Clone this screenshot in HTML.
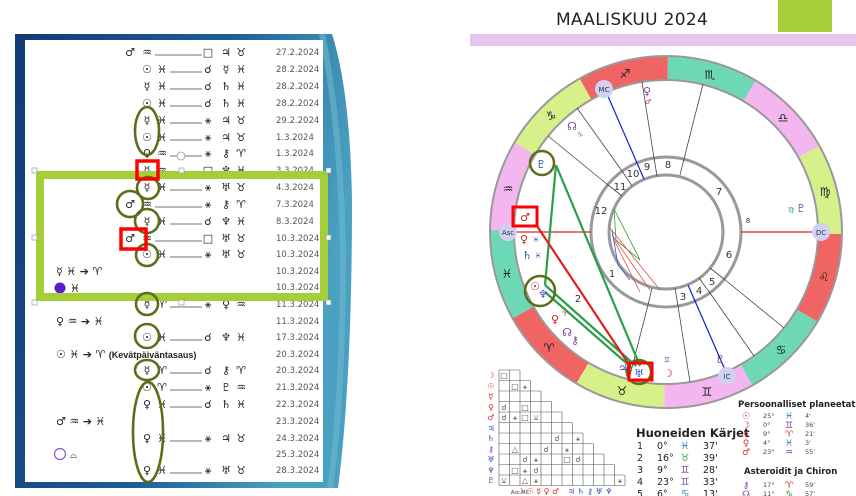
<!DOCTYPE html>
<html><head><meta charset="utf-8"><style>
html,body{margin:0;padding:0;background:#fff;width:856px;height:496px;overflow:hidden;font-family:"Liberation Sans","DejaVu Sans",sans-serif}
svg text{font-family:"DejaVu Sans","Liberation Sans",sans-serif}
</style></head><body>
<svg width="856" height="496" viewBox="0 0 856 496" xmlns="http://www.w3.org/2000/svg">
<defs>
<linearGradient id="bg" x1="0" y1="0" x2="1" y2="0.3">
<stop offset="0" stop-color="#123a78"/><stop offset="0.6" stop-color="#1f5f95"/><stop offset="1" stop-color="#4aa0c0"/></linearGradient>
</defs>
<!-- LEFT PANEL -->
<path d="M15,34 L332,34 Q350,90 352,200 Q352,380 338,488 L15,488 Z" fill="url(#bg)"/>
<path d="M322,34 Q340,120 343,250 Q343,400 330,488" fill="none" stroke="#6fb7cf" stroke-width="6" opacity="0.6"/>
<rect x="25" y="40" width="298" height="442" fill="#fff"/>
<g font-size="11" fill="#222">
<!-- rows with lines -->
<g stroke="#444" stroke-width="0.8">
<line x1="155" y1="55" x2="202" y2="55"/><line x1="170" y1="72" x2="202" y2="72"/><line x1="170" y1="89" x2="202" y2="89"/><line x1="170" y1="106" x2="202" y2="106"/><line x1="170" y1="123" x2="202" y2="123"/><line x1="170" y1="140" x2="202" y2="140"/><line x1="170" y1="156" x2="202" y2="156"/><line x1="170" y1="173" x2="202" y2="173"/><line x1="170" y1="190" x2="202" y2="190"/><line x1="155" y1="207" x2="202" y2="207"/><line x1="170" y1="224" x2="202" y2="224"/><line x1="155" y1="241" x2="202" y2="241"/><line x1="170" y1="257" x2="202" y2="257"/><line x1="170" y1="307" x2="202" y2="307"/><line x1="170" y1="340" x2="202" y2="340"/><line x1="170" y1="373" x2="202" y2="373"/><line x1="170" y1="390" x2="202" y2="390"/><line x1="170" y1="407" x2="202" y2="407"/><line x1="170" y1="441" x2="202" y2="441"/><line x1="170" y1="473" x2="202" y2="473"/>
</g>
<g text-anchor="middle">
<text x="130" y="56">♂</text><text x="147" y="56">♒</text><text x="208" y="56">□</text><text x="226" y="56">♃</text><text x="241" y="56">♉</text>
<text x="147" y="73">☉</text><text x="162" y="73">♓</text><text x="208" y="73">☌</text><text x="226" y="73">☿</text><text x="241" y="73">♓</text>
<text x="147" y="90">☿</text><text x="162" y="90">♓</text><text x="208" y="90">☌</text><text x="226" y="90">♄</text><text x="241" y="90">♓</text>
<text x="147" y="107">☉</text><text x="162" y="107">♓</text><text x="208" y="107">☌</text><text x="226" y="107">♄</text><text x="241" y="107">♓</text>
<text x="147" y="124">☿</text><text x="162" y="124">♓</text><text x="208" y="124">⚹</text><text x="226" y="124">♃</text><text x="241" y="124">♉</text>
<text x="147" y="141">☉</text><text x="162" y="141">♓</text><text x="208" y="141">⚹</text><text x="226" y="141">♃</text><text x="241" y="141">♉</text>
<text x="147" y="157">♀</text><text x="162" y="157">♒</text><text x="208" y="157">⚹</text><text x="226" y="157">⚷</text><text x="241" y="157">♈</text>
<text x="147" y="174">☿</text><text x="162" y="174">♒</text><text x="208" y="174">□</text><text x="226" y="174">♆</text><text x="241" y="174">♓</text>
<text x="147" y="191">☿</text><text x="162" y="191">♓</text><text x="208" y="191">⚹</text><text x="226" y="191">♅</text><text x="241" y="191">♉</text>
<text x="130" y="208">♂</text><text x="147" y="208">♒</text><text x="208" y="208">⚹</text><text x="226" y="208">⚷</text><text x="241" y="208">♈</text>
<text x="147" y="225">☿</text><text x="162" y="225">♓</text><text x="208" y="225">☌</text><text x="226" y="225">♆</text><text x="241" y="225">♓</text>
<text x="130" y="242">♂</text><text x="147" y="242">♒</text><text x="208" y="242">□</text><text x="226" y="242">♅</text><text x="241" y="242">♉</text>
<text x="147" y="258">☉</text><text x="162" y="258">♓</text><text x="208" y="258">⚹</text><text x="226" y="258">♅</text><text x="241" y="258">♉</text>
<text x="147" y="308">☿</text><text x="162" y="308">♈</text><text x="208" y="308">⚹</text><text x="226" y="308">♀</text><text x="241" y="308">♒</text>
<text x="147" y="341">☉</text><text x="162" y="341">♓</text><text x="208" y="341">☌</text><text x="226" y="341">♆</text><text x="241" y="341">♓</text>
<text x="147" y="374">☿</text><text x="162" y="374">♈</text><text x="208" y="374">☌</text><text x="226" y="374">⚷</text><text x="241" y="374">♈</text>
<text x="147" y="391">☉</text><text x="162" y="391">♈</text><text x="208" y="391">⚹</text><text x="226" y="391">♇</text><text x="241" y="391">♒</text>
<text x="147" y="408">♀</text><text x="162" y="408">♓</text><text x="208" y="408">☌</text><text x="226" y="408">♄</text><text x="241" y="408">♓</text>
<text x="147" y="442">♀</text><text x="162" y="442">♓</text><text x="208" y="442">⚹</text><text x="226" y="442">♃</text><text x="241" y="442">♉</text>
<text x="147" y="474">♀</text><text x="162" y="474">♓</text><text x="208" y="474">⚹</text><text x="226" y="474">♅</text><text x="241" y="474">♉</text>
</g>
<text x="56" y="275">☿  ♓ ➔ ♈</text>
<circle cx="60" cy="288" r="5.5" fill="#5a1ec8"/><text x="70" y="292">♓</text>
<text x="56" y="325">♀  ♒ ➔ ♓</text>
<text x="56" y="358">☉  ♓ ➔ ♈ <tspan font-family="Liberation Sans" font-weight="bold" font-size="9">(Kevätpäiväntasaus)</tspan></text>
<text x="56" y="425">♂  ♒ ➔ ♓</text>
<circle cx="60" cy="454" r="5.5" fill="none" stroke="#8a5ad0" stroke-width="1.2"/><text x="70" y="458" font-size="9">⌓</text>
</g>
<g font-family="Liberation Sans" font-size="8.5" fill="#555">
<text x="276" y="55">27.2.2024</text><text x="276" y="72">28.2.2024</text><text x="276" y="89">28.2.2024</text><text x="276" y="106">28.2.2024</text><text x="276" y="123">29.2.2024</text><text x="276" y="140">1.3.2024</text><text x="276" y="156">1.3.2024</text><text x="276" y="173">3.3.2024</text><text x="276" y="190">4.3.2024</text><text x="276" y="207">7.3.2024</text><text x="276" y="224">8.3.2024</text><text x="276" y="241">10.3.2024</text><text x="276" y="257">10.3.2024</text><text x="276" y="274">10.3.2024</text><text x="276" y="290">10.3.2024</text><text x="276" y="307">11.3.2024</text><text x="276" y="324">11.3.2024</text><text x="276" y="340">17.3.2024</text><text x="276" y="357">20.3.2024</text><text x="276" y="373">20.3.2024</text><text x="276" y="390">21.3.2024</text><text x="276" y="407">22.3.2024</text><text x="276" y="424">23.3.2024</text><text x="276" y="441">24.3.2024</text><text x="276" y="457">25.3.2024</text><text x="276" y="473">28.3.2024</text>
</g>
<!-- green highlight rectangle -->
<rect x="40" y="175" width="284" height="122" fill="none" stroke="#a6ce39" stroke-width="8"/>
<line x1="44" y1="180" x2="320" y2="180" stroke="#fff" stroke-width="1" opacity="0"/>
<g fill="#fff" stroke="#999" stroke-width="0.7">
<rect x="32" y="168" width="5" height="5"/><rect x="179" y="168" width="5" height="5"/><rect x="326" y="168" width="5" height="5"/>
<rect x="32" y="235" width="5" height="5"/><rect x="326" y="235" width="5" height="5"/>
<rect x="32" y="300" width="5" height="5"/><rect x="179" y="300" width="5" height="5"/><rect x="326" y="300" width="5" height="5"/>
</g>
<circle cx="181" cy="156" r="4" fill="#fff" stroke="#999" stroke-width="0.8"/>
<!-- olive ovals -->
<g fill="none" stroke="#5c6e1a" stroke-width="2.6">
<ellipse cx="147" cy="131" rx="12" ry="24"/>
<circle cx="148" cy="188" r="11"/>
<circle cx="130" cy="204" r="13"/>
<circle cx="147" cy="221" r="12"/>
<circle cx="147" cy="255" r="11"/>
<circle cx="147" cy="304" r="11"/>
<circle cx="147" cy="336" r="12"/>
<ellipse cx="147" cy="370" rx="12" ry="10"/>
<ellipse cx="148" cy="432" rx="15" ry="50"/>
</g>
<g fill="none" stroke="#f00" stroke-width="3.5">
<rect x="137" y="161" width="21" height="18"/>
<rect x="121" y="229" width="25" height="20"/>
</g>

<!-- RIGHT PANEL -->
<text x="632" y="25" font-family="Liberation Sans" font-size="17" text-anchor="middle" fill="#222" letter-spacing="0.3">MAALISKUU 2024</text>
<rect x="778" y="0" width="54" height="32" fill="#a6ce39"/>
<rect x="470" y="34" width="386" height="12" fill="#e6c6ec"/>
<!-- zodiac ring -->
<g fill="none" stroke-width="24">
<circle cx="666" cy="232" r="164" stroke="#f06464" stroke-dasharray="85.87 1100" transform="rotate(120.6 666 232)"/>
<circle cx="666" cy="232" r="164" stroke="#d6f08a" stroke-dasharray="85.87 1100" transform="rotate(90.6 666 232)"/>
<circle cx="666" cy="232" r="164" stroke="#f4b6ee" stroke-dasharray="85.87 1100" transform="rotate(60.6 666 232)"/>
<circle cx="666" cy="232" r="164" stroke="#6ed8b6" stroke-dasharray="85.87 1100" transform="rotate(30.6 666 232)"/>
<circle cx="666" cy="232" r="164" stroke="#f06464" stroke-dasharray="85.87 1100" transform="rotate(0.6 666 232)"/>
<circle cx="666" cy="232" r="164" stroke="#d6f08a" stroke-dasharray="85.87 1100" transform="rotate(-29.4 666 232)"/>
<circle cx="666" cy="232" r="164" stroke="#f4b6ee" stroke-dasharray="85.87 1100" transform="rotate(-59.4 666 232)"/>
<circle cx="666" cy="232" r="164" stroke="#6ed8b6" stroke-dasharray="85.87 1100" transform="rotate(-89.4 666 232)"/>
<circle cx="666" cy="232" r="164" stroke="#f06464" stroke-dasharray="85.87 1100" transform="rotate(-119.4 666 232)"/>
<circle cx="666" cy="232" r="164" stroke="#d6f08a" stroke-dasharray="85.87 1100" transform="rotate(-149.4 666 232)"/>
<circle cx="666" cy="232" r="164" stroke="#f4b6ee" stroke-dasharray="85.87 1100" transform="rotate(-179.4 666 232)"/>
<circle cx="666" cy="232" r="164" stroke="#6ed8b6" stroke-dasharray="85.87 1100" transform="rotate(150.6 666 232)"/>
</g>
<circle cx="666" cy="232" r="176" fill="none" stroke="#999" stroke-width="2"/>
<circle cx="666" cy="232" r="152" fill="none" stroke="#999" stroke-width="2"/>
<g font-size="12" text-anchor="middle" fill="#222">
<text x="549" y="352">♈</text><text x="622" y="395">♉</text><text x="707" y="396">♊</text><text x="781" y="354">♋</text><text x="824" y="281">♌</text><text x="825" y="196">♍</text><text x="783" y="122">♎</text><text x="710" y="79">♏</text><text x="625" y="78">♐</text><text x="551" y="120">♑</text><text x="508" y="193">♒</text><text x="507" y="278">♓</text>
</g>
<!-- house rings -->
<circle cx="666" cy="232" r="75" fill="none" stroke="#999" stroke-width="3"/>
<circle cx="666" cy="232" r="57" fill="none" stroke="#999" stroke-width="3"/>
<g stroke="#444" stroke-width="0.8">
<line x1="684" y1="159" x2="703" y2="84"/><line x1="654" y1="158" x2="642" y2="82"/><line x1="622" y1="171" x2="577" y2="108"/><line x1="608" y1="185" x2="548" y2="136"/>
<line x1="648" y1="305" x2="629" y2="379"/><line x1="678" y1="306" x2="690" y2="382"/><line x1="710" y1="293" x2="754" y2="356"/><line x1="724" y1="279" x2="784" y2="328"/>
<line x1="684" y1="159" x2="680" y2="175"/><line x1="654" y1="158" x2="657" y2="176"/><line x1="622" y1="171" x2="632" y2="186"/><line x1="608" y1="185" x2="622" y2="196"/>
<line x1="648" y1="305" x2="652" y2="288"/><line x1="678" y1="306" x2="675" y2="288"/><line x1="710" y1="293" x2="699" y2="278"/><line x1="724" y1="279" x2="710" y2="268"/>
</g>
<g font-size="10" fill="#333" text-anchor="middle" font-family="Liberation Sans">
<text x="612" y="277">1</text><text x="578" y="302">2</text><text x="683" y="300">3</text><text x="699" y="294">4</text><text x="712" y="285">5</text><text x="729" y="258">6</text><text x="719" y="195">7</text><text x="668" y="168">8</text><text x="647" y="170">9</text><text x="633" y="177">10</text><text x="620" y="190">11</text><text x="601" y="214">12</text><text x="748" y="223" font-size="7">8</text>
</g>
<!-- axes -->
<line x1="514" y1="232" x2="591" y2="232" stroke="#e02020" stroke-width="1.2"/>
<line x1="741" y1="232" x2="815" y2="232" stroke="#e02020" stroke-width="1.2"/>
<line x1="607" y1="94" x2="644" y2="179" stroke="#1020d0" stroke-width="1.2"/>
<line x1="688" y1="285" x2="726" y2="372" stroke="#1020d0" stroke-width="1.2"/>
<g font-size="7" font-family="Liberation Sans" text-anchor="middle" fill="#333">
<circle cx="604" cy="89" r="9" fill="#cfd0f2"/><text x="604" y="92">MC</text>
<circle cx="508" cy="232" r="9" fill="#cfd0f2"/><text x="508" y="235">Asc</text>
<circle cx="821" cy="232" r="9" fill="#cfd0f2"/><text x="821" y="235">DC</text>
<circle cx="727" cy="376" r="9" fill="#cfd0f2"/><text x="727" y="379">IC</text>
</g>
<!-- inner aspect lines -->
<g stroke-width="0.8" fill="none">
<path d="M614,209 L640,260 L616,240 Z" stroke="#2a9a2a"/>
<path d="M610,228 L660,290 M612,235 L650,290 M614,240 L640,292" stroke="#e05050"/>
<path d="M612,230 L618,265 L630,280" stroke="#3050d0"/>
</g>
<!-- big aspect lines -->
<g stroke-width="2.2" fill="none">
<line x1="556" y1="165" x2="640" y2="366" stroke="#2aa048"/>
<line x1="556" y1="165" x2="545" y2="285" stroke="#2aa048"/>
<line x1="545" y1="285" x2="636" y2="366" stroke="#2aa048"/>
<line x1="545" y1="292" x2="632" y2="368" stroke="#2aa048"/>
<line x1="537" y1="226" x2="630" y2="366" stroke="#e02020"/>
</g>
<!-- planets -->
<g font-size="11" text-anchor="middle">
<text x="647" y="95" fill="#8040a0">♀</text><text x="648" y="104" fill="#d03030" font-size="7">♂</text>
<text x="572" y="130" fill="#8040a0">☊</text><text x="580" y="137" fill="#40a060" font-size="7">♑</text>
<text x="541" y="168" fill="#2050a0">♇</text>
<text x="525" y="221" fill="#d02020">♂</text>
<text x="524" y="243" fill="#d02020">♀</text><text x="536" y="242" fill="#3050c0" font-size="7">♓</text>
<text x="527" y="259" fill="#3050c0">♄</text><text x="538" y="258" fill="#3050c0" font-size="7">♓</text>
<text x="535" y="290" fill="#d02020">☉</text><text x="543" y="298" fill="#3050c0">♆</text>
<text x="555" y="323" fill="#d02020">♀</text><text x="565" y="316" fill="#d02020" font-size="7">♈</text>
<text x="567" y="336" fill="#8040a0">☊</text><text x="575" y="344" fill="#8040a0">⚷</text>
<text x="623" y="372" fill="#3050c0">♃</text><text x="639" y="377" fill="#3050c0">♅</text>
<text x="668" y="377" fill="#d02020">☽</text><text x="667" y="362" fill="#8040a0" font-size="7">♊</text>
<text x="720" y="363" fill="#8040a0">♇</text><text x="801" y="212" fill="#8040a0">♇</text><text x="791" y="212" fill="#40a060" font-size="7">♍</text>
</g>
<g fill="none">
<circle cx="542" cy="163" r="12" stroke="#5c6e1a" stroke-width="2.5"/>
<circle cx="540" cy="291" r="15" stroke="#5c6e1a" stroke-width="2.5"/>
<circle cx="639" cy="372" r="12" stroke="#5c6e1a" stroke-width="2.5"/>
<rect x="513" y="207" width="24" height="19" stroke="#f00" stroke-width="3"/>
<rect x="629" y="363" width="23" height="17" stroke="#f00" stroke-width="3"/>
</g>
<!-- aspect grid -->
<g stroke="#555" stroke-width="0.6" fill="none">
<path d="M499,370 H520 M499,380.5 H530 M499,391 H541 M499,401.5 H551 M499,412 H562 M499,422.5 H572 M499,433 H583 M499,443.5 H593 M499,454 H604 M499,464.5 H614 M499,475 H625 M499,485.5 H625"/>
<path d="M499,370 V485.5 M509.5,370 V485.5 M520,370 V485.5 M530.5,380.5 V485.5 M541,391 V485.5 M551.5,401.5 V485.5 M562,412 V485.5 M572.5,422.5 V485.5 M583,433 V485.5 M593.5,443.5 V485.5 M604,454 V485.5 M614.5,464.5 V485.5 M625,475 V485.5"/>
</g>
<g font-size="8" text-anchor="middle">
<text x="491" y="378" fill="#d03030">☽</text><text x="491" y="389" fill="#d03030">☉</text><text x="491" y="399" fill="#d03030">☿</text><text x="491" y="410" fill="#d03030">♀</text><text x="491" y="420" fill="#d03030">♂</text><text x="491" y="431" fill="#3050c0">♃</text><text x="491" y="441" fill="#3050c0">♄</text><text x="491" y="452" fill="#8040a0">⚷</text><text x="491" y="462" fill="#3050c0">♅</text><text x="491" y="473" fill="#3050c0">♆</text><text x="491" y="483" fill="#8040a0">♇</text>
<g fill="#555"><text x="504" y="378">□</text><text x="515" y="389">□</text><text x="525" y="389">⚹</text><text x="525" y="410">□</text><text x="504" y="410">☌</text><text x="504" y="420">☌</text><text x="515" y="420">⚹</text><text x="525" y="420">□</text><text x="536" y="420">⚺</text><text x="557" y="441">☌</text><text x="578" y="441">⚹</text><text x="515" y="452">△</text><text x="546" y="452">☌</text><text x="567" y="452">⚹</text><text x="525" y="462">☌</text><text x="536" y="462">⚹</text><text x="567" y="462">□</text><text x="578" y="462">☌</text><text x="515" y="473">□</text><text x="525" y="473">⚹</text><text x="536" y="473">☌</text><text x="504" y="483">⚺</text><text x="525" y="483">△</text><text x="536" y="483">⚹</text><text x="620" y="483">⚹</text></g>
<text x="520" y="494" font-size="5" fill="#333">Asc MC</text>
<text x="538" y="494" fill="#d03030">☽ ☉ ☿ ♀ ♂</text><text x="590" y="494" fill="#3050c0">♃ ♄ ⚷ ♅ ♆</text>
</g>
<!-- house table -->
<g font-family="Liberation Sans" fill="#222">
<text x="636" y="437" font-size="11.5" font-weight="bold">Huoneiden Kärjet</text>
<g font-size="9.5">
<text x="637" y="449">1</text><text x="657" y="449">0°</text><text x="703" y="449">37'</text>
<text x="637" y="461">2</text><text x="657" y="461">16°</text><text x="703" y="461">39'</text>
<text x="637" y="473">3</text><text x="657" y="473">9°</text><text x="703" y="473">28'</text>
<text x="637" y="485">4</text><text x="657" y="485">23°</text><text x="703" y="485">33'</text>
<text x="637" y="497">5</text><text x="657" y="497">6°</text><text x="703" y="497">13'</text>
</g>
<g font-family="DejaVu Sans" font-size="10" text-anchor="middle"><text x="685" y="449" fill="#2080c0">♓</text><text x="685" y="461" fill="#30a040">♉</text><text x="685" y="473" fill="#8040a0">♊</text><text x="685" y="485" fill="#8040a0">♊</text><text x="685" y="497" fill="#2080c0">♋</text></g>
<text x="738" y="407" font-size="8.5" font-weight="bold">Persoonalliset planeetat</text>
<g font-size="6.5" fill="#444"><text x="763" y="418">25°</text><text x="763" y="427">0°</text><text x="763" y="436">9°</text><text x="763" y="445">4°</text><text x="763" y="454">23°</text>
<text x="805" y="418">4'</text><text x="805" y="427">36'</text><text x="805" y="436">21'</text><text x="805" y="445">3'</text><text x="805" y="454">55'</text></g>
<g font-family="DejaVu Sans" font-size="9" text-anchor="middle"><text x="746" y="419" fill="#d03030">☉</text><text x="746" y="428" fill="#d03030">☽</text><text x="746" y="437" fill="#d03030">☿</text><text x="746" y="446" fill="#d03030">♀</text><text x="746" y="455" fill="#d03030">♂</text>
<text x="789" y="419" fill="#2080c0">♓</text><text x="789" y="428" fill="#8040a0">♊</text><text x="789" y="437" fill="#d03030">♈</text><text x="789" y="446" fill="#2080c0">♓</text><text x="789" y="455" fill="#8040a0">♒</text></g>
<text x="744" y="474" font-size="8.5" font-weight="bold">Asteroidit ja Chiron</text>
<g font-size="6.5" fill="#444"><text x="763" y="487">17°</text><text x="763" y="496">11°</text><text x="805" y="487">59'</text><text x="805" y="496">57'</text></g>
<g font-family="DejaVu Sans" font-size="9" text-anchor="middle"><text x="746" y="488" fill="#8040a0">⚷</text><text x="746" y="497" fill="#8040a0">☊</text><text x="789" y="488" fill="#d03030">♈</text><text x="789" y="497" fill="#30a040">♑</text></g>
</g>
</svg>
</body></html>
